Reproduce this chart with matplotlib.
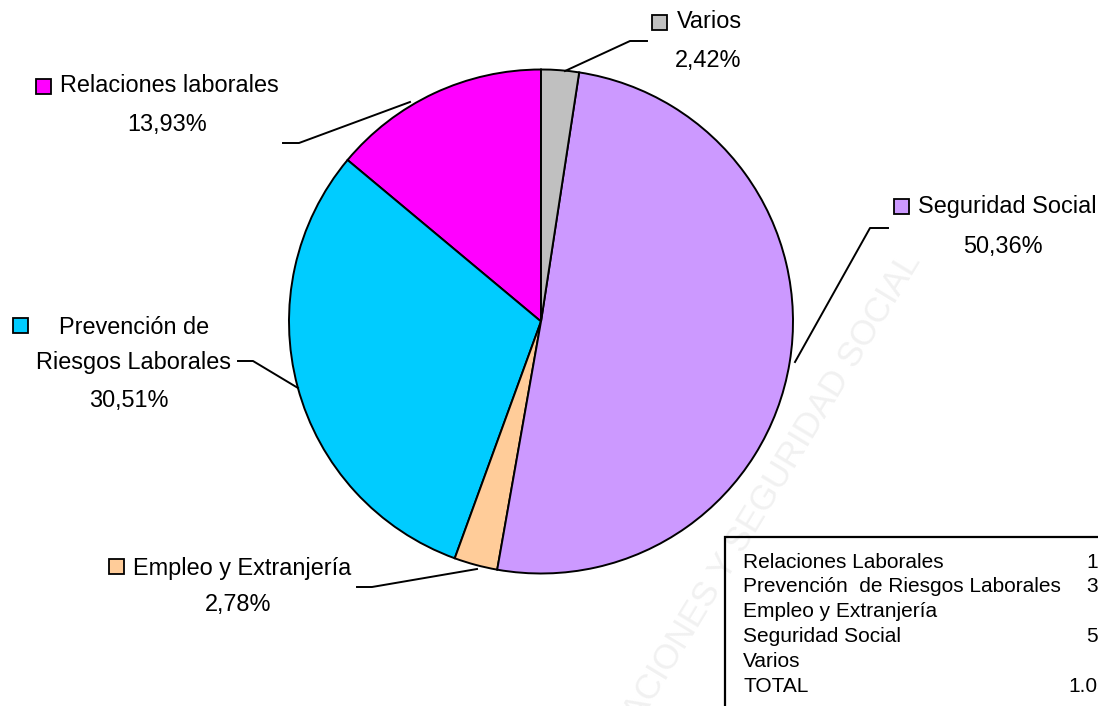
import matplotlib.pyplot as plt
from matplotlib.patches import Rectangle

# datos del grafico (orden de la tabla)
categorias = ['Relaciones laborales', 'Prevención de\nRiesgos Laborales',
              'Empleo y Extranjería', 'Seguridad Social', 'Varios']
porcentajes = [13.93, 30.51, 2.78, 50.36, 2.42]
colores = ['#FF00FF', '#00CCFF', '#FFCC99', '#CC99FF', '#C0C0C0']

tabla_nombres = ['Relaciones Laborales', 'Prevención  de Riesgos Laborales',
                 'Empleo y Extranjería', 'Seguridad Social', 'Varios', 'TOTAL']
tabla_valores = ['144', '315', '29', '521', '25', '1.034']

W, H = 1098, 706
fuente = ['Liberation Sans', 'DejaVu Sans']


def Y(y):
    # coordenadas en pixeles con origen arriba a la izquierda
    return H - y


fig = plt.figure(figsize=(W / 100, H / 100), dpi=100)
ax = fig.add_axes([0, 0, 1, 1])

ax.pie(porcentajes, colors=colores, startangle=90, counterclock=True,
       center=(541, Y(321.5)), radius=252, frame=True,
       wedgeprops=dict(edgecolor='black', linewidth=1.4))
ax.set_xlim(0, W)
ax.set_ylim(0, H)
ax.axis('off')

# posicion de cada etiqueta: cuadro, lineas de texto, porcentaje, linea guia
pos = [
    dict(key=(43.5, 86), lineas=[(60, 86, 'left')], pct=(167, 125),
         guia=[(283, 143), (299, 143), (410, 102)]),
    dict(key=(20, 325.5), lineas=[(134, 327, 'center'), (133, 362, 'center')],
         pct=(129, 400), guia=[(238, 361), (253, 361), (298, 388)]),
    dict(key=(116.5, 566.5), lineas=[(133, 568, 'left')], pct=(238, 605),
         guia=[(357, 587), (372, 587), (477, 569)]),
    dict(key=(901.5, 206.5), lineas=[(918, 207, 'left')], pct=(1003, 247),
         guia=[(888, 228), (870, 228), (795, 362)]),
    dict(key=(659, 22), lineas=[(677, 22, 'left')], pct=(708, 60),
         guia=[(647, 41), (630, 41), (565, 71)]),
]

for nombre, p, c, d in zip(categorias, porcentajes, colores, pos):
    kx, ky = d['key']
    ax.add_patch(Rectangle((kx - 7.5, Y(ky) - 7.5), 15, 15, facecolor=c,
                           edgecolor='black', linewidth=1.3, zorder=5))
    for txt, (tx, ty, ha) in zip(nombre.split('\n'), d['lineas']):
        ax.text(tx, Y(ty), txt, ha=ha, va='center', fontsize=16.9,
                family=fuente, zorder=5)
    ax.text(d['pct'][0], Y(d['pct'][1]), f"{p:.2f}".replace('.', ',') + '%',
            ha='center', va='center', fontsize=16.9, family=fuente, zorder=5)
    gx = [q[0] for q in d['guia']]
    gy = [Y(q[1]) for q in d['guia']]
    ax.plot(gx, gy, color='black', linewidth=1.4, zorder=4)

# marca de agua
ax.text(913, Y(256), 'RELACIONES Y SEGURIDAD SOCIAL', rotation=58.7,
        rotation_mode='anchor', ha='right', va='center', fontsize=25,
        family=fuente, color='#F1F1F1', zorder=0)

# tabla recortada abajo a la derecha
ax.add_patch(Rectangle((725, -20), 500, Y(537) + 20, facecolor='none',
                       edgecolor='black', linewidth=1.6, zorder=3))
for i, (n, v) in enumerate(zip(tabla_nombres, tabla_valores)):
    yy = Y(562 + i * 24.8)
    ax.text(743, yy, n, ha='left', va='center', fontsize=15,
            family=fuente, zorder=5)
    ax.text(1121, yy, v, ha='right', va='center', fontsize=15,
            family=fuente, zorder=5)

fig.savefig('out.png', dpi=100)
